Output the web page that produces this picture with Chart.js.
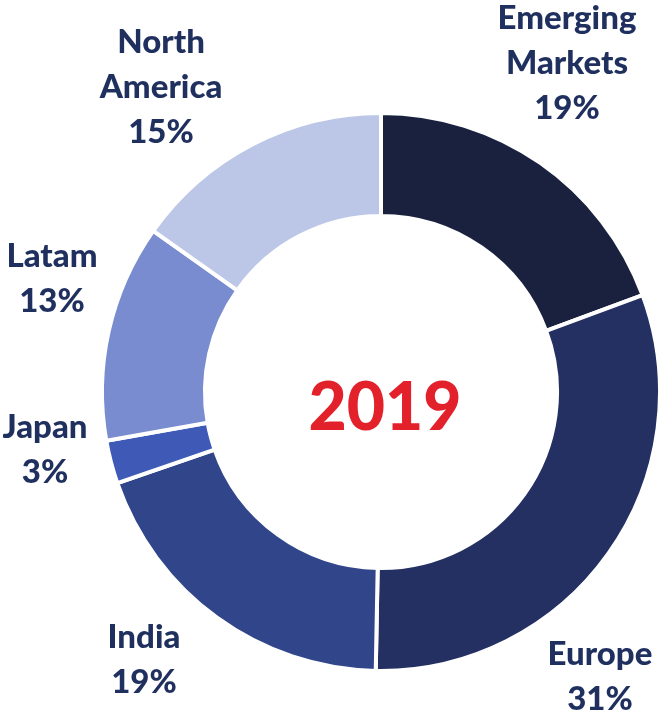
<!DOCTYPE html>
<html>
<head>
<meta charset="utf-8">
<script src="https://cdn.jsdelivr.net/npm/chart.js@4"></script>
<style>
html,body{margin:0;padding:0;background:#fff;}
#wrap{width:666px;height:721px;position:relative;}
</style>
</head>
<body>
<div id="wrap"><canvas id="c"></canvas></div>
<script>
// Data
const regions = ['Emerging Markets', 'Europe', 'India', 'Japan', 'Latam', 'North America'];
const shares = [19.35, 30.95, 19.4, 2.5, 12.6, 15.2];
const labelLines = [['Emerging', 'Markets'], ['Europe'], ['India'], ['Japan'], ['Latam'], ['North', 'America']];
const centerTitle = '2019';

// Styling / layout (separate from data)
const sliceColors = ['#19213f', '#233061', '#31468a', '#3e5ab6', '#788ccf', '#bcc6e7'];
const labelAnchors = [
  {x: 567, y: 29},
  {x: 600, y: 665},
  {x: 144, y: 648},
  {x: 45, y: 438},
  {x: 52, y: 267},
  {x: 161, y: 53}
];
const labelFont = '900 33px Lato';
const labelColor = '#1f2f5e';
const lineGap = 45;

const labelPlugin = {
  id: 'outLabels',
  afterDatasetsDraw(chart) {
    const ctx = chart.ctx;
    const data = chart.data.datasets[0].data;
    ctx.save();
    ctx.font = labelFont;
    ctx.fillStyle = labelColor;
    ctx.textAlign = 'center';
    ctx.textBaseline = 'alphabetic';
    data.forEach((v, i) => {
      const lines = labelLines[i].concat([Math.round(v) + '%']);
      const a = labelAnchors[i];
      lines.forEach((t, k) => ctx.fillText(t, a.x, a.y + k * lineGap));
    });
    // center title
    const meta = chart.getDatasetMeta(0);
    const arc = meta.data[0];
    ctx.font = '900 66px Lato';
    ctx.fillStyle = '#e3212b';
    ctx.fillText(centerTitle, arc.x + 4, arc.y + 38);
    ctx.restore();
  }
};

new Chart(document.getElementById('c'), {
  type: 'doughnut',
  data: {
    labels: regions,
    datasets: [{
      data: shares,
      backgroundColor: sliceColors,
      borderColor: '#ffffff',
      borderWidth: 4,
      hoverOffset: 0
    }]
  },
  options: {
    responsive: true,
    maintainAspectRatio: false,
    animation: false,
    radius: 279,
    cutout: '63.1%',
    layout: {padding: {left: 104, right: 8, top: 115, bottom: 52}},
    plugins: {
      legend: {display: false},
      tooltip: {enabled: false}
    },
    events: []
  },
  plugins: [labelPlugin]
});
</script>
</body>
</html>
